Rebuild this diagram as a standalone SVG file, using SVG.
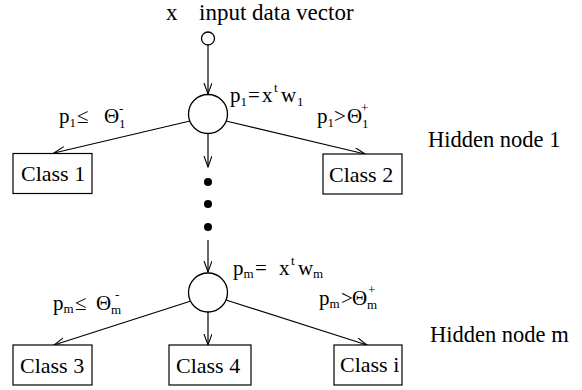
<svg xmlns="http://www.w3.org/2000/svg" width="582" height="390" viewBox="0 0 582 390">
<style>
text{font-family:"Liberation Serif","DejaVu Serif",serif;fill:#000}
.cls{font-size:22px}
.lbl{font-size:21px}
.sub{font-size:13px}
.box{fill:#fff;stroke:#000;stroke-width:1.2}
.node{fill:#fff;stroke:#000;stroke-width:1.3}
.edge{stroke:#000;stroke-width:1.2;fill:none}
</style>
<defs>
<marker id="arr" markerUnits="userSpaceOnUse" markerWidth="14" markerHeight="10" refX="11" refY="4" orient="auto">
<path d="M0,0 L11,4 L0,8" fill="none" stroke="#000" stroke-width="1.1"/>
</marker>
</defs>
<rect width="582" height="390" fill="#fff"/>

<g id="connectors">
<line class="edge" x1="208" y1="45" x2="208" y2="94" marker-end="url(#arr)"/>
<line class="edge" x1="190" y1="121" x2="54" y2="153" marker-end="url(#arr)"/>
<line class="edge" x1="226" y1="121" x2="365" y2="154" marker-end="url(#arr)"/>
<line class="edge" x1="208" y1="134" x2="208" y2="167" marker-end="url(#arr)"/>
<line class="edge" x1="208" y1="240" x2="208" y2="272" marker-end="url(#arr)"/>
<line class="edge" x1="191" y1="301" x2="54" y2="345" marker-end="url(#arr)"/>
<line class="edge" x1="208" y1="312" x2="208" y2="345" marker-end="url(#arr)"/>
<line class="edge" x1="226" y1="300" x2="367" y2="345" marker-end="url(#arr)"/>
</g>

<g id="input">
<circle class="node" cx="208" cy="38.5" r="6.5"/>
<text x="166" y="20" style="font-size:23px">x</text>
<text x="199" y="20" style="font-size:23px">input data vector</text>
</g>

<g id="hidden1">
<circle class="node" cx="208" cy="114" r="19.5"/>
<text class="lbl" y="102"><tspan x="230">p</tspan><tspan class="sub" x="240.5" y="106">1</tspan><tspan x="248" y="102">=</tspan><tspan x="262" y="102">x</tspan><tspan class="sub" x="274" y="92">t</tspan><tspan x="281" y="102">w</tspan><tspan class="sub" x="297" y="106">1</tspan></text>
<text x="428" y="147" style="font-size:22.5px">Hidden node 1</text>
</g>

<g id="label-p1-le">
<text class="lbl" y="123"><tspan x="59">p</tspan><tspan class="sub" x="69.5" y="127">1</tspan><tspan x="77" y="123">≤</tspan><tspan x="104" y="123">Θ</tspan><tspan class="sub" x="119" y="128">1</tspan><tspan class="sub" x="119" y="113">-</tspan></text>
</g>
<g id="label-p1-gt">
<text class="lbl" y="123"><tspan x="317">p</tspan><tspan class="sub" x="327.5" y="127">1</tspan><tspan x="334" y="123">&gt;</tspan><tspan x="347" y="123">Θ</tspan><tspan class="sub" x="362" y="128">1</tspan><tspan class="sub" x="361" y="112">+</tspan></text>
</g>

<g id="class1">
<rect class="box" x="13" y="153.5" width="79" height="40"/>
<text class="cls" x="21" y="181">Class 1</text>
</g>
<g id="class2">
<rect class="box" x="323" y="154" width="79" height="40"/>
<text class="cls" x="329" y="182">Class 2</text>
</g>

<g id="dots">
<circle cx="208" cy="182" r="4"/>
<circle cx="208" cy="204" r="4"/>
<circle cx="208" cy="227" r="4"/>
</g>

<g id="hiddenm">
<circle class="node" cx="208" cy="292.5" r="19.5"/>
<text class="lbl" y="275"><tspan x="233">p</tspan><tspan class="sub" x="243.5" y="278">m</tspan><tspan x="255" y="275">=</tspan><tspan x="279" y="275">x</tspan><tspan class="sub" x="291" y="265">t</tspan><tspan x="298" y="275">w</tspan><tspan class="sub" x="313" y="278">m</tspan></text>
<text x="430" y="342" style="font-size:22.5px">Hidden node m</text>
</g>

<g id="label-pm-le">
<text class="lbl" y="310"><tspan x="53">p</tspan><tspan class="sub" x="63.5" y="313">m</tspan><tspan x="75" y="310">≤</tspan><tspan x="96" y="310">Θ</tspan><tspan class="sub" x="111" y="314">m</tspan><tspan class="sub" x="115" y="299">-</tspan></text>
</g>
<g id="label-pm-gt">
<text class="lbl" y="305"><tspan x="319">p</tspan><tspan class="sub" x="329.5" y="308">m</tspan><tspan x="341" y="305">&gt;</tspan><tspan x="352" y="305">Θ</tspan><tspan class="sub" x="367" y="309">m</tspan><tspan class="sub" x="368" y="294">+</tspan></text>
</g>

<g id="class3">
<rect class="box" x="13" y="345" width="79" height="40"/>
<text class="cls" x="20" y="373">Class 3</text>
</g>
<g id="class4">
<rect class="box" x="169" y="345" width="82" height="40"/>
<text class="cls" x="176" y="373">Class 4</text>
</g>
<g id="classi">
<rect class="box" x="334" y="345" width="68" height="40"/>
<text class="cls" x="340" y="372">Class i</text>
</g>
</svg>
